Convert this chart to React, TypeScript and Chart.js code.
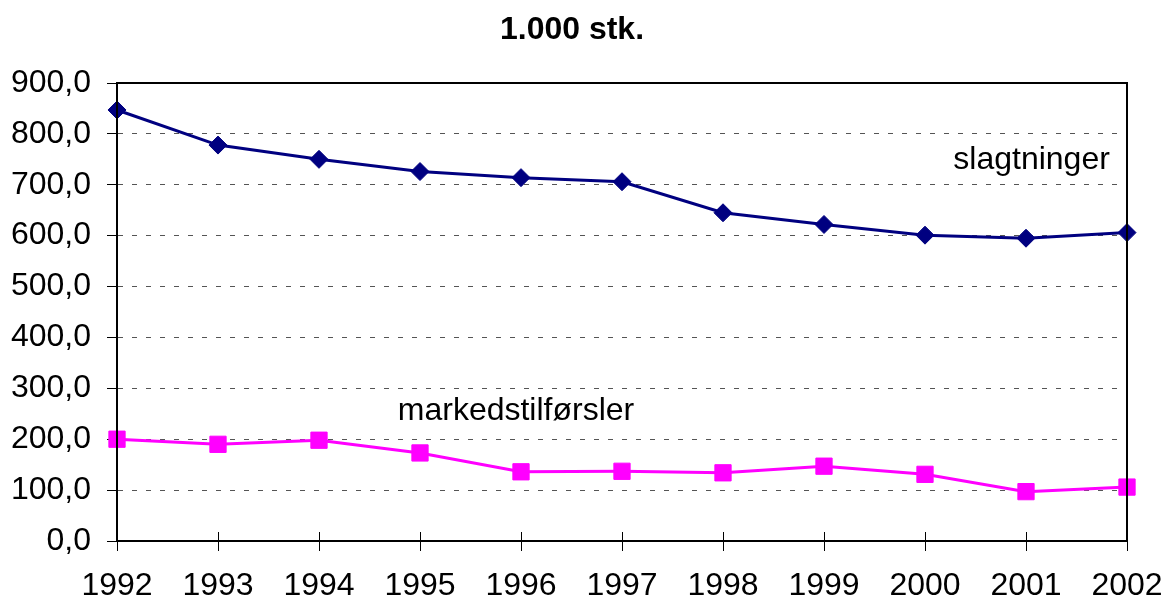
import React, { useEffect, useRef } from "react";
import { Chart, registerables } from "chart.js";

Chart.register(...registerables);

const years = ["1992", "1993", "1994", "1995", "1996", "1997", "1998", "1999", "2000", "2001", "2002"];
const slagtninger = [847, 778, 750, 726, 714, 706, 645, 622, 601, 595, 606];
const markedstilforsler = [200, 190, 198, 173, 136, 137, 134, 147, 131, 97, 106];
const titleText = "1.000 stk.";
const seriesNames = ["slagtninger", "markedstilførsler"];

const FONT = "'Liberation Sans', Arial, sans-serif";
const FS = 32;

const decorPlugin = {
  id: "decor",
  afterDatasetsDraw(chart: any) {
    const { ctx, chartArea, scales } = chart;
    const x = scales.x;
    const y = scales.y;
    ctx.save();
    // plot border
    ctx.strokeStyle = "#000";
    ctx.lineWidth = 2;
    ctx.strokeRect(chartArea.left, chartArea.top, chartArea.right - chartArea.left, chartArea.bottom - chartArea.top);
    // inward x ticks
    ctx.lineWidth = 1;
    for (let i = 0; i < years.length; i++) {
      const px = Math.round(x.getPixelForValue(i)) + 0.5;
      ctx.beginPath();
      ctx.moveTo(px, chartArea.bottom);
      ctx.lineTo(px, chartArea.bottom - 9);
      ctx.stroke();
    }
    // title
    ctx.fillStyle = "#000";
    ctx.font = `bold ${FS}px ${FONT}`;
    ctx.textAlign = "center";
    ctx.textBaseline = "middle";
    ctx.fillText(titleText, 572, 30);
    // series annotations
    ctx.font = `${FS}px ${FONT}`;
    ctx.textAlign = "right";
    ctx.fillText(seriesNames[0], x.getPixelForValue(9.83), y.getPixelForValue(748));
    ctx.textAlign = "left";
    ctx.fillText(seriesNames[1], x.getPixelForValue(2.78), y.getPixelForValue(255));
    ctx.restore();
  },
};

export default function App() {
  const ref = useRef<HTMLCanvasElement>(null);
  useEffect(() => {
    if (!ref.current) return;
    const chart = new Chart(ref.current, {
      type: "line",
      data: {
        labels: years,
        datasets: [
          {
            label: seriesNames[0],
            data: slagtninger,
            borderColor: "#000080",
            backgroundColor: "#000080",
            borderWidth: 3,
            pointStyle: "rectRot",
            pointRadius: 9,
            pointBorderWidth: 1,
            tension: 0,
          },
          {
            label: seriesNames[1],
            data: markedstilforsler,
            borderColor: "#FF00FF",
            backgroundColor: "#FF00FF",
            borderWidth: 3,
            pointStyle: "rect",
            pointRadius: 11.5,
            pointBorderWidth: 1,
            tension: 0,
          },
        ],
      },
      options: {
        responsive: false,
        animation: false,
        layout: { padding: { top: 83, right: 38, left: 0, bottom: 0 } },
        plugins: {
          legend: { display: false },
          title: { display: false },
          tooltip: { enabled: false },
        },
        scales: {
          x: {
            offset: false,
            afterFit: (s: any) => {
              s.height = 60;
              s.paddingLeft = 0;
              s.paddingRight = 0;
            },
            grid: {
              drawOnChartArea: false,
              drawTicks: true,
              tickLength: 10,
              color: "#000",
              tickColor: "#000",
            },
            border: { display: true, color: "#000", width: 2 },
            ticks: {
              color: "#000",
              font: { family: FONT, size: FS },
              padding: 16,
              maxRotation: 0,
              autoSkip: false,
            },
          },
          y: {
            min: 0,
            max: 900,
            afterFit: (s: any) => {
              s.width = 117;
            },
            grid: {
              color: "#555",
              tickColor: "#000",
              tickLength: 10,
              tickBorderDash: [],
              lineWidth: 1,
            },
            border: { display: true, color: "#000", width: 2, dash: [5, 9] },
            ticks: {
              stepSize: 100,
              color: "#000",
              padding: 16,
              font: { family: FONT, size: FS },
              callback: (v: any) => Number(v).toFixed(1).replace(".", ","),
            },
          },
        },
      },
      plugins: [decorPlugin],
    });
    return () => chart.destroy();
  }, []);
  return (
    <div style={{ position: "fixed", left: 0, top: 0, width: 1165, height: 601, background: "#fff" }}>
      <canvas ref={ref} width={1165} height={601} />
    </div>
  );
}
